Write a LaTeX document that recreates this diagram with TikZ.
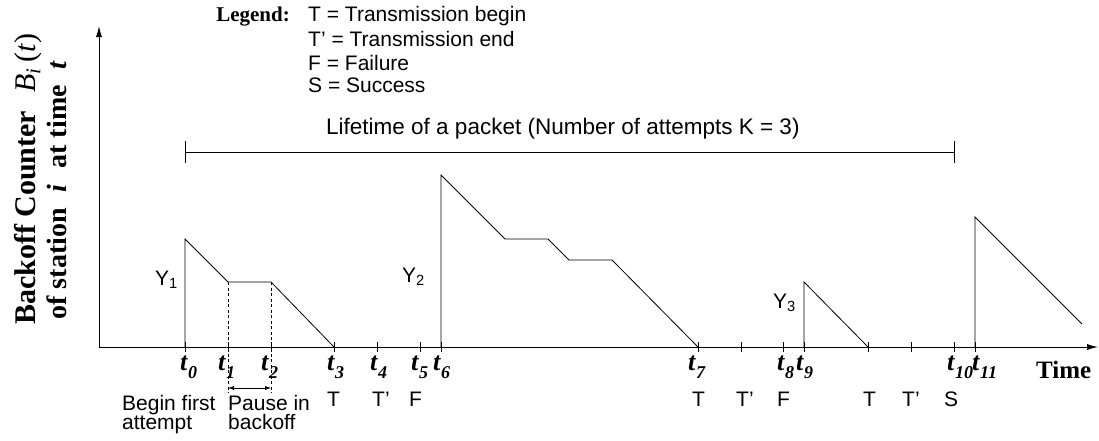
\documentclass[tikz,border=0pt]{standalone}
\usepackage{fontspec}
\setmainfont{Liberation Serif}
\setsansfont{Liberation Sans}
\usetikzlibrary{arrows.meta}
\newcommand{\tlab}[1]{\textit{t}\raisebox{-8pt}{\fontsize{18}{18}\selectfont\textit{#1}}}
\begin{document}
\begin{tikzpicture}[x=1pt,y=-1pt,
  axisline/.style={line width=0.9pt,-{Latex[length=11pt,width=6pt]}},
  curve/.style={line width=0.8pt},
  tickmark/.style={line width=0.8pt},
  sanstext/.style={font=\sffamily\fontsize{21}{25}\selectfont,inner sep=0pt},
  tlabel/.style={font=\bfseries\fontsize{26}{26}\selectfont,inner sep=0pt,anchor=base west},
  evt/.style={sanstext,anchor=base west},
  ylab/.style={font=\bfseries\fontsize{28}{28}\selectfont,inner sep=0pt,rotate=90,anchor=base}]
\path[use as bounding box] (0,0) rectangle (1099,440);

% axes
\coordinate (O) at (99,347);
\coordinate (xend) at (1098,347);
\coordinate (yend) at (99,26);
\draw[axisline] (O) -- (xend);
\draw[axisline] (O) -- (yend);

% ticks
\foreach \x/\n in {185/0,228/1,271/2,334/3,377/4,420/5,441/6,698/7,741/a,783/8,804/9,868/b,911/c,954/10,975/11}{
  \coordinate (k\n) at (\x,347);
  \draw[tickmark] (\x,342) -- (\x,352);
}

% backoff counter curves
\draw[curve] (k0) -- (185,239) -- (228,282) coordinate (p1) -- (271,282) coordinate (p2) -- (k3);
\draw[curve] (k6) -- (441,175) -- (505,239) -- (548,239) -- (569,260) -- (612,260) -- (k7);
\draw[curve] (k9) -- (804,282) -- (kb);
\draw[curve] (k11) -- (975,217) -- (1082,324) coordinate (lastend);

% pause markers
\coordinate (d1) at (228,393);
\coordinate (d2) at (271,393);
\draw[line width=0.6pt,dash pattern=on 3pt off 2.5pt] (p1) -- (d1);
\draw[line width=0.6pt,dash pattern=on 3pt off 2.5pt] (p2) -- (d2);
\coordinate (a1) at (228,388);
\coordinate (a2) at (271,388);
\draw[line width=0.6pt,{Latex[length=6pt,width=4pt]}-{Latex[length=6pt,width=4pt]}] (a1) -- (a2);

% lifetime bar
\coordinate (L1) at (185,152);
\coordinate (L2) at (954,152);
\draw[line width=0.9pt] (L1) -- (L2);
\draw[line width=0.9pt] (185,141) -- (185,163);
\draw[line width=0.9pt] (954,141) -- (954,163);
\node[evt,font=\sffamily\fontsize{22.5}{25}\selectfont] (life) at (326,134) {Lifetime of a packet (Number of attempts K = 3)};

% legend
\node[font=\bfseries\fontsize{21}{21}\selectfont,inner sep=0pt,anchor=base east] (leg) at (290,21) {Legend:};
\node[evt] (lg1) at (308,21) {T = Transmission begin};
\node[evt] (lg2) at (308,46) {T’ = Transmission end};
\node[evt] (lg3) at (308,70) {F = Failure};
\node[evt] (lg4) at (308,92) {S = Success};

% Y labels
\node[evt] (Y1) at (155,285) {Y\textsubscript{1}};
\node[evt] (Y2) at (402,282) {Y\textsubscript{2}};
\node[evt] (Y3) at (773,308) {Y\textsubscript{3}};

% time labels
\node[tlabel] (l0) at (180,370) {\tlab{0}};
\node[tlabel] (l1) at (218,370) {\tlab{1}};
\node[tlabel] (l2) at (261,370) {\tlab{2}};
\node[tlabel] (l3) at (327,370) {\tlab{3}};
\node[tlabel] (l4) at (370,370) {\tlab{4}};
\node[tlabel] (l5) at (411,370) {\tlab{5}};
\node[tlabel] (l6) at (433,370) {\tlab{6}};
\node[tlabel] (l7) at (688,370) {\tlab{7}};
\node[tlabel] (l8) at (777,370) {\tlab{8}};
\node[tlabel] (l9) at (796,370) {\tlab{9}};
\node[tlabel] (l10) at (947,370) {\tlab{10}};
\node[tlabel] (l11) at (972,370) {\tlab{11}};
\node[font=\bfseries\fontsize{25}{25}\selectfont,inner sep=0pt,anchor=base west] (time) at (1036,378) {Time};

% event labels
\node[evt] (e1) at (327,406) {T};
\node[evt] (e2) at (372,406) {T’};
\node[evt] (e3) at (409,406) {F};
\node[evt] (e4) at (692,406) {T};
\node[evt] (e5) at (736,406) {T’};
\node[evt] (e6) at (777,406) {F};
\node[evt] (e7) at (863,406) {T};
\node[evt] (e8) at (902,406) {T’};
\node[evt] (e9) at (944,406) {S};

% explanatory text
\node[evt] (b1) at (122,410) {Begin first};
\node[evt] (b2) at (122,429) {attempt};
\node[evt] (c1) at (228,410) {Pause in};
\node[evt] (c2) at (228,429) {backoff};

% vertical axis title
\node[ylab,font=\bfseries\fontsize{30}{30}\selectfont] (yl1) at (35,179) {Backoff Counter\hspace{18pt}\mdseries\textit{B}\textsubscript{\textit{i}}\hspace{6pt}(\textit{t})};
\node[ylab] (yl2) at (66,190) {of station\hspace{16pt}\textit{i}\hspace{16pt}at time\hspace{16pt}\textit{t}};
\end{tikzpicture}
\end{document}
